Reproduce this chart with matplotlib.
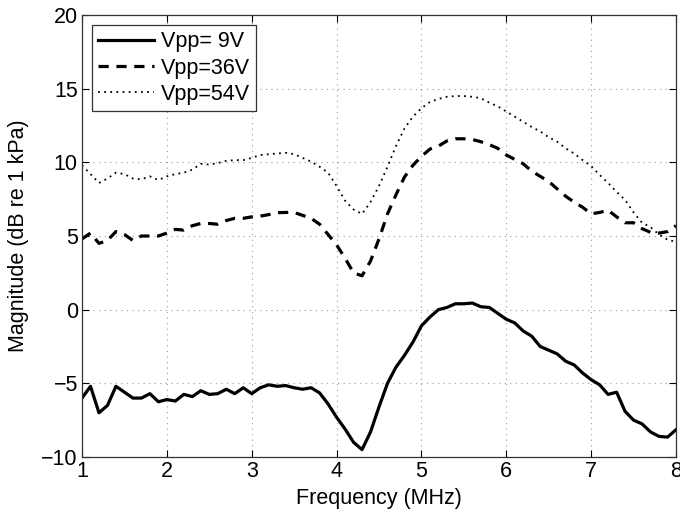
import matplotlib.pyplot as plt
import numpy as np

plt.rcParams['font.family'] = ['Liberation Sans', 'DejaVu Sans']

# frequency axis (MHz), 0.1 MHz steps
freq = np.round(np.arange(1.0, 8.01, 0.1), 1)

vpp9 = [-6.0, -5.2, -7.0, -6.5, -5.2, -5.6, -6.0, -6.0, -5.7, -6.25,
        -6.1, -6.2, -5.75, -5.9, -5.5, -5.75, -5.7, -5.4, -5.7, -5.3,
        -5.7, -5.3, -5.1, -5.2, -5.15, -5.3, -5.4, -5.3, -5.65, -6.4,
        -7.3, -8.1, -9.0, -9.5, -8.3, -6.6, -5.0, -3.9, -3.1, -2.2,
        -1.1, -0.5, 0.0, 0.15, 0.4, 0.4, 0.45, 0.2, 0.15, -0.25,
        -0.65, -0.9, -1.45, -1.8, -2.5, -2.75, -3.0, -3.5, -3.75, -4.3,
        -4.75, -5.1, -5.75, -5.6, -6.9, -7.5, -7.75, -8.3, -8.6, -8.65,
        -8.15]

vpp36 = [4.8, 5.2, 4.5, 4.7, 5.3, 5.1, 4.7, 5.0, 5.0, 5.0,
         5.2, 5.45, 5.4, 5.7, 5.85, 5.85, 5.8, 6.05, 6.2, 6.2,
         6.3, 6.35, 6.45, 6.58, 6.6, 6.6, 6.4, 6.2, 5.8, 5.1,
         4.4, 3.5, 2.5, 2.3, 3.3, 4.8, 6.5, 7.8, 9.0, 9.8,
         10.4, 10.9, 11.1, 11.45, 11.6, 11.6, 11.55, 11.4, 11.2, 10.95,
         10.5, 10.2, 9.9, 9.4, 9.05, 8.7, 8.2, 7.7, 7.3, 6.95,
         6.5, 6.6, 6.75, 6.3, 5.9, 5.9, 5.5, 5.25, 5.2, 5.3,
         5.7]

vpp54 = [9.8, 9.2, 8.6, 8.9, 9.3, 9.2, 8.9, 8.85, 9.05, 8.8,
         9.05, 9.2, 9.3, 9.5, 9.9, 9.85, 9.95, 10.1, 10.15, 10.15,
         10.3, 10.5, 10.55, 10.6, 10.65, 10.55, 10.3, 10.05, 9.7, 9.3,
         8.4, 7.4, 6.8, 6.5, 7.3, 8.4, 9.7, 11.1, 12.3, 13.1,
         13.67, 14.1, 14.3, 14.45, 14.5, 14.5, 14.45, 14.35, 14.05, 13.8,
         13.45, 13.1, 12.75, 12.4, 12.1, 11.7, 11.4, 10.95, 10.6, 10.15,
         9.75, 9.15, 8.6, 8.0, 7.45, 6.6, 5.9, 5.6, 5.1, 4.75,
         4.6]

labels = ['Vpp= 9V', 'Vpp=36V', 'Vpp=54V']

fig = plt.figure(figsize=(6.8, 5.12), dpi=100)
ax = fig.add_axes([0.1206, 0.1074, 0.8735, 0.8633])

ax.plot(freq, vpp9, color='black', linewidth=2.3, linestyle='-', label=labels[0])
ax.plot(freq, vpp36, color='black', linewidth=2.3, linestyle=(0, (3.2, 2.4)), label=labels[1])
ax.plot(freq, vpp54, color='black', linewidth=1.3, linestyle=(0, (1.0, 2.4)), label=labels[2])

ax.set_xlim(1, 8)
ax.set_ylim(-10, 20)
ax.set_xticks(range(1, 9))
ax.set_yticks(range(-10, 21, 5))
ax.set_yticklabels(['\u221210', '\u22125', '0', '5', '10', '15', '20'])

ax.grid(True, color='#999999', linestyle=(0, (1, 4)), linewidth=0.8)
ax.tick_params(direction='in', top=True, right=True, labelsize=15.5, length=5, width=0.8, pad=3)
for s in ax.spines.values():
    s.set_linewidth(0.9)
    s.set_color('#333333')

ax.set_xlabel('Frequency (MHz)', fontsize=15.5, labelpad=4)
ax.set_ylabel('Magnitude (dB re 1 kPa)', fontsize=15.5, labelpad=9)

leg = ax.legend(loc='upper left', fontsize=15.5, handlelength=2.6, handletextpad=0.3,
                borderaxespad=0.45, borderpad=0.3, labelspacing=0.25, fancybox=False,
                framealpha=1, edgecolor='#333333')
leg.get_frame().set_linewidth(0.9)

fig.savefig('out.png', dpi=100)
